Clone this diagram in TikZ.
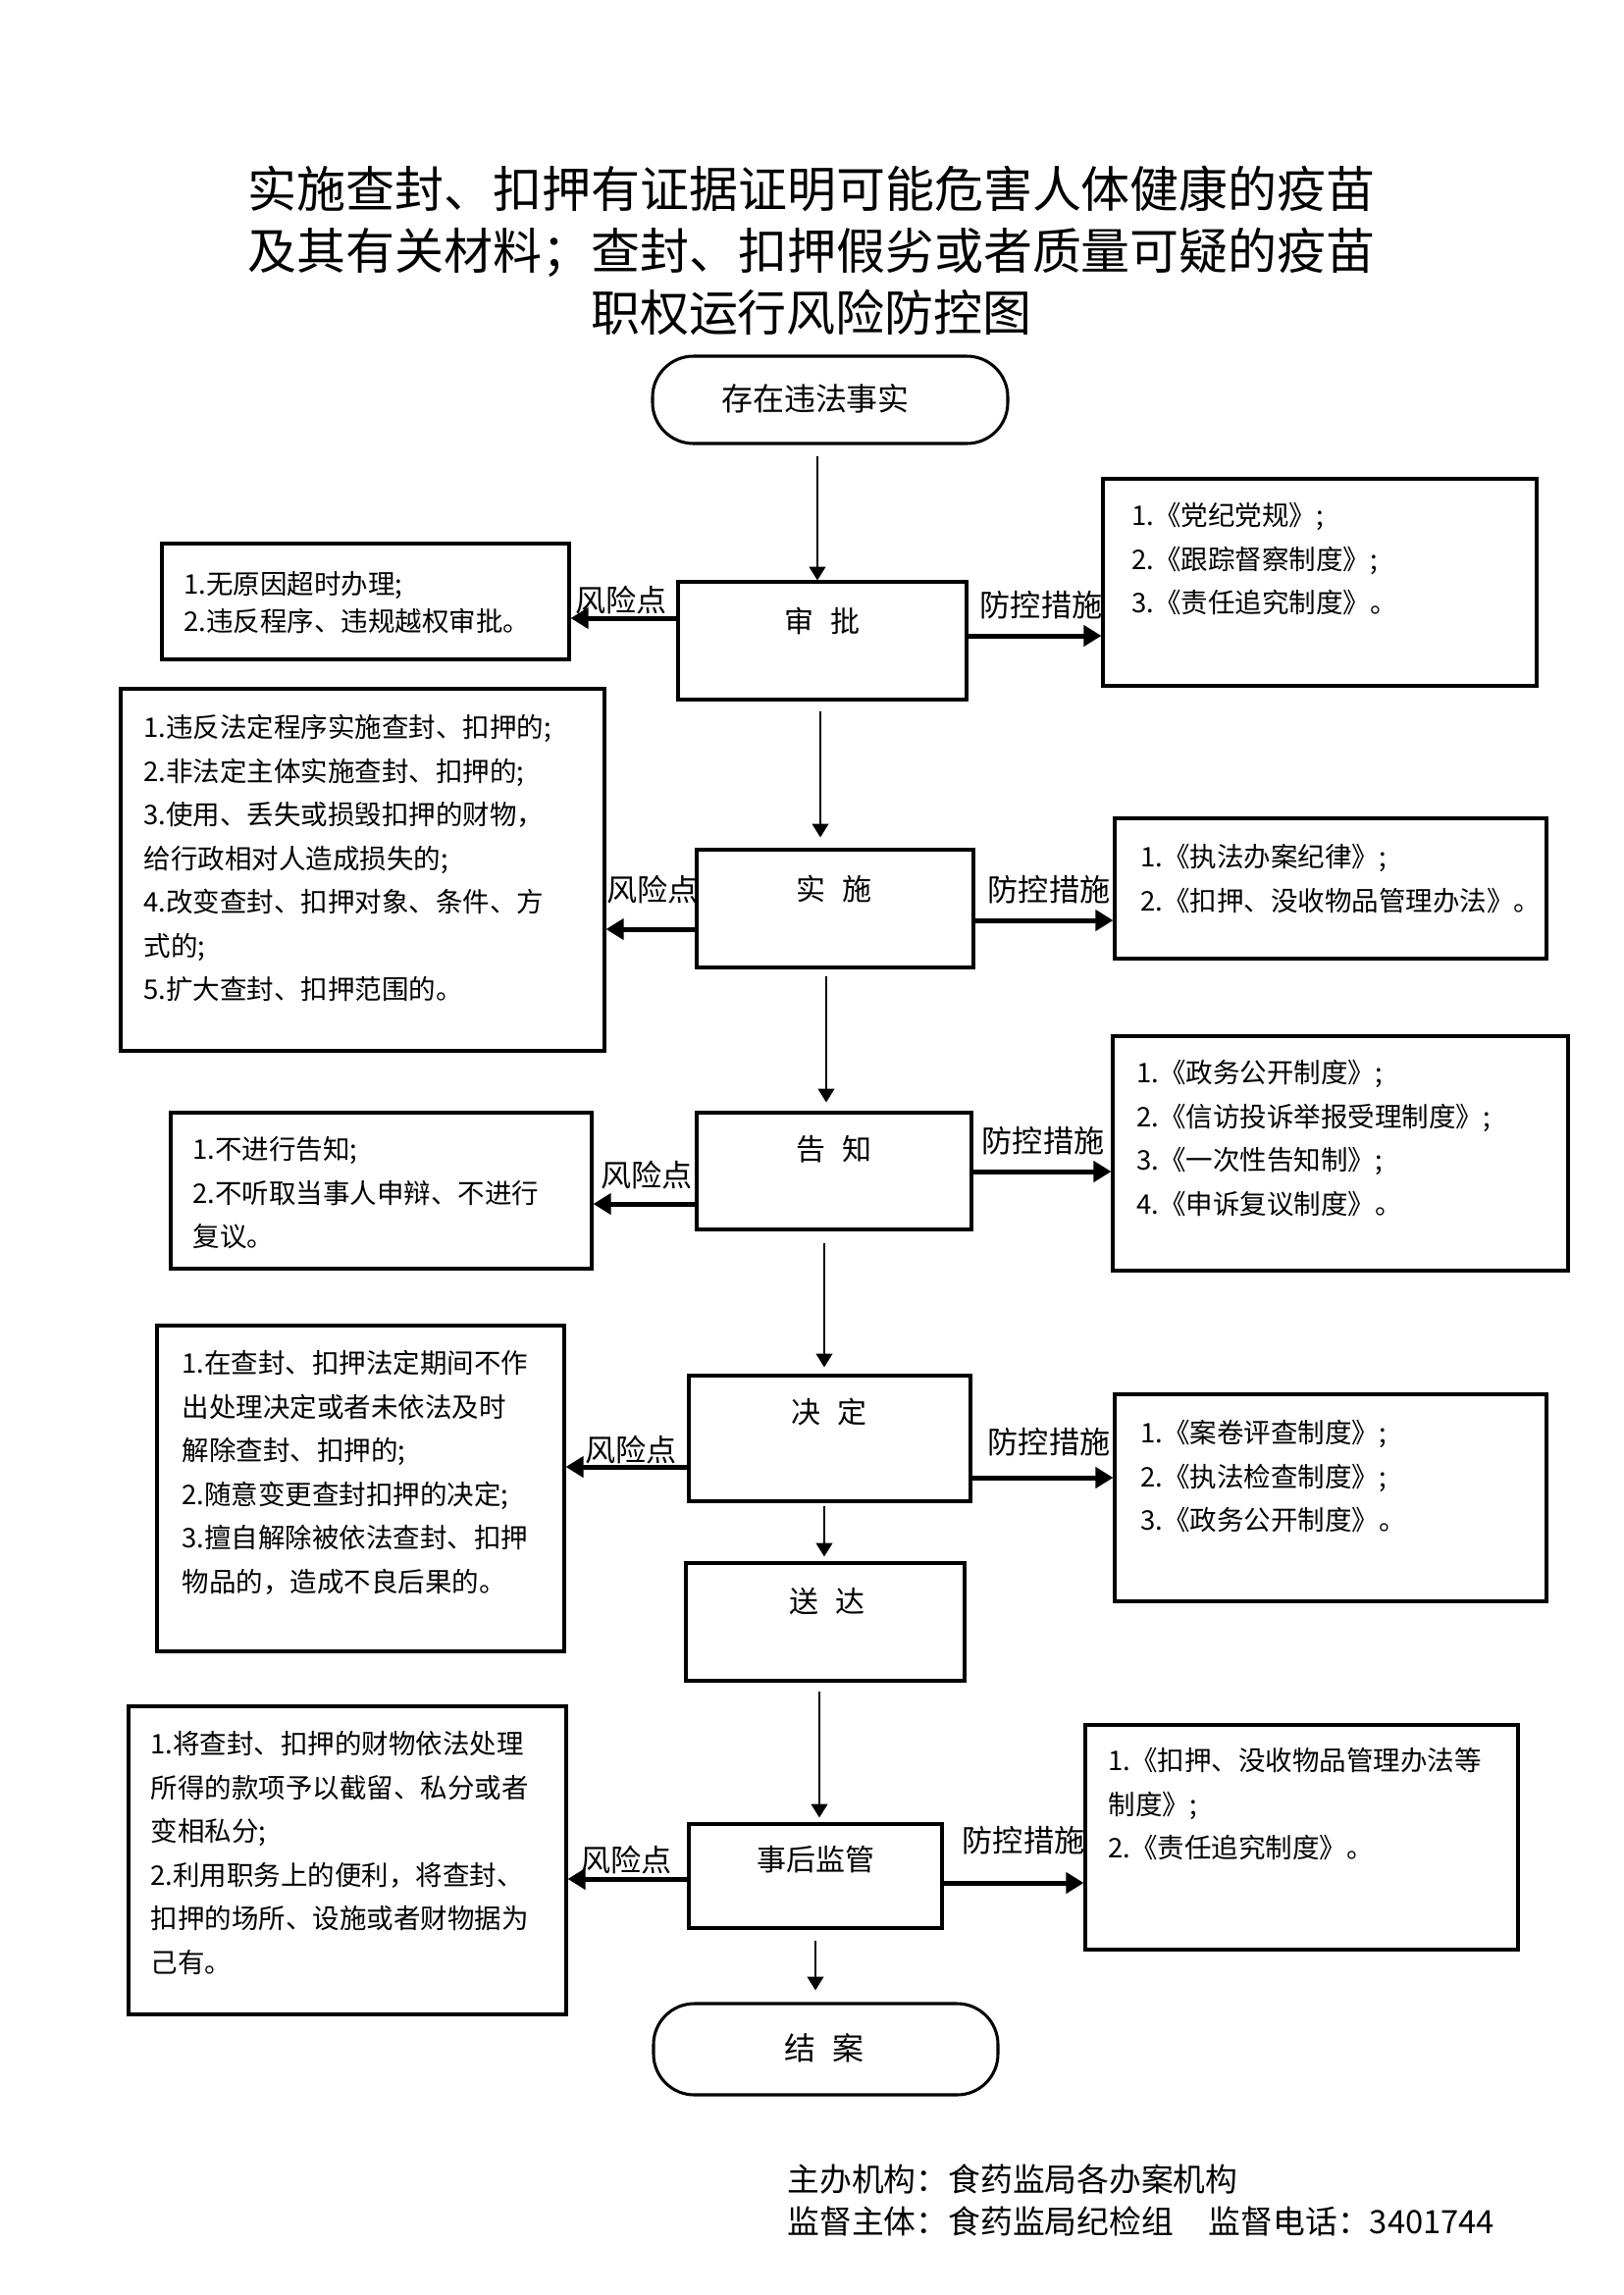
\documentclass[tikz,border=0pt]{standalone}
\usepackage{fontspec}
\setmainfont{Noto Sans CJK SC}
\usetikzlibrary{arrows.meta,fit}
\begin{document}
\begin{tikzpicture}[x=0.36pt,y=-0.36pt,
  box/.style={draw=black, line width=1.1pt, inner sep=0pt, rectangle},
  term/.style={draw=black, line width=1.1pt, inner sep=0pt, rounded corners=15pt},
  mtext/.style={inner sep=0pt, font=\fontsize{10.8}{13}\selectfont},
  ltext/.style={inner sep=0pt, anchor=north west, align=left, font=\fontsize{9.9}{16}\selectfont},
  tag/.style={inner sep=0pt, font=\fontsize{11.2}{13}\selectfont},
  flow/.style={line width=0.75pt, -{Triangle[length=5pt,width=6pt]}},
  side/.style={line width=1.8pt, -{Triangle[length=6.5pt,width=7.5pt]}},
]
\useasboundingbox (0,0) rectangle (1654,2339);

% title
\node[inner sep=0pt, align=center, font=\fontsize{18}{22.7}\selectfont] (title) at (827,255)
  {实施查封、扣押有证据证明可能危害人体健康的疫苗\\及其有关材料；查封、扣押假劣或者质量可疑的疫苗\\职权运行风险防控图};

% main column boxes
\node[term, fit={(665,363) (1027,452)}] (start) {};
\node[mtext, font=\fontsize{11.5}{13}\selectfont] (startt) at (831,406) {存在违法事实};

\node[box, fit={(691,593) (985,713)}] (sp) {};
\node[mtext] (spt) at (838,633) {审\hspace{0.55em}批};

\node[box, fit={(710,866) (992,986)}] (ss) {};
\node[mtext] (sst) at (850,906) {实\hspace{0.55em}施};

\node[box, fit={(710,1134) (990,1253)}] (gz) {};
\node[mtext] (gzt) at (850,1171) {告\hspace{0.55em}知};

\node[box, fit={(702,1402) (989,1530)}] (jd) {};
\node[mtext] (jdt) at (845,1439) {决\hspace{0.55em}定};

\node[box, fit={(699,1593) (983,1713)}] (sd) {};
\node[mtext] (sdt) at (843,1632) {送\hspace{0.55em}达};

\node[box, fit={(702,1859) (960,1965)}] (jg) {};
\node[mtext] (jgt) at (831,1895) {事后监管};

\node[term, fit={(666,2042) (1017,2135)}] (end) {};
\node[mtext, font=\fontsize{11.5}{13}\selectfont] (endt) at (840,2087) {结\hspace{0.55em}案};

% risk boxes (left)
\node[box, fit={(165,554) (580,672)}] (r1) {};
\node[ltext, font=\fontsize{9.9}{13.7}\selectfont] (r1t) at (187,582)
  {1.无原因超时办理;\\2.违反程序、违规越权审批。};

\node[box, fit={(123,702) (616,1071)}] (r2) {};
\node[ltext] (r2t) at (146,728)
  {1.违反法定程序实施查封、扣押的;\\2.非法定主体实施查封、扣押的;\\3.使用、丢失或损毁扣押的财物，\\给行政相对人造成损失的;\\4.改变查封、扣押对象、条件、方\\式的;\\5.扩大查封、扣押范围的。};

\node[box, fit={(174,1134) (603,1293)}] (r3) {};
\node[ltext] (r3t) at (196,1158)
  {1.不进行告知;\\2.不听取当事人申辩、不进行\\复议。};

\node[box, fit={(160,1351) (575,1683)}] (r4) {};
\node[ltext] (r4t) at (185,1376)
  {1.在查封、扣押法定期间不作\\出处理决定或者未依法及时\\解除查封、扣押的;\\2.随意变更查封扣押的决定;\\3.擅自解除被依法查封、扣押\\物品的，造成不良后果的。};

\node[box, fit={(131,1739) (577,2053)}] (r5) {};
\node[ltext] (r5t) at (153,1764)
  {1.将查封、扣押的财物依法处理\\所得的款项予以截留、私分或者\\变相私分;\\2.利用职务上的便利，将查封、\\扣押的场所、设施或者财物据为\\己有。};

% control boxes (right)
\node[box, fit={(1124,488) (1566,699)}] (c1) {};
\node[ltext] (c1t) at (1153,512)
  {1.《党纪党规》;\\2.《跟踪督察制度》;\\3.《责任追究制度》。};

\node[box, fit={(1136,834) (1576,977)}] (c2) {};
\node[ltext] (c2t) at (1162,860)
  {1.《执法办案纪律》;\\2.《扣押、没收物品管理办法》。};

\node[box, fit={(1134,1056) (1598,1295)}] (c3) {};
\node[ltext] (c3t) at (1158,1080)
  {1.《政务公开制度》;\\2.《信访投诉举报受理制度》;\\3.《一次性告知制》;\\4.《申诉复议制度》。};

\node[box, fit={(1136,1421) (1576,1632)}] (c4) {};
\node[ltext] (c4t) at (1162,1447)
  {1.《案卷评查制度》;\\2.《执法检查制度》;\\3.《政务公开制度》。};

\node[box, fit={(1106,1758) (1547,1987)}] (c5) {};
\node[ltext] (c5t) at (1129,1781)
  {1.《扣押、没收物品管理办法等\\制度》;\\2.《责任追究制度》。};

% main flow arrows
\draw[flow, shorten <=11*0.36pt] (start.south -| 833,0) -- (sp.north -| 833,0);
\draw[flow, shorten <=10*0.36pt, shorten >=11*0.36pt] (sp.south -| 836,0) -- (ss.north -| 836,0);
\draw[flow, shorten <=7*0.36pt, shorten >=9*0.36pt] (ss.south -| 842,0) -- (gz.north -| 842,0);
\draw[flow, shorten <=12*0.36pt, shorten >=7*0.36pt] (gz.south -| 840,0) -- (jd.north -| 840,0);
\draw[flow, shorten <=3*0.36pt, shorten >=5*0.36pt] (jd.south -| 840,0) -- (sd.north -| 840,0);
\draw[flow, shorten <=9*0.36pt, shorten >=5*0.36pt] (sd.south -| 835,0) -- (jg.north -| 835,0);
\draw[flow, shorten <=11*0.36pt, shorten >=12*0.36pt] (jg.south -| 831,0) -- (end.north -| 831,0);

% risk arrows
\draw[side] (sp.west |- 0,630) -- (r1.east |- 0,630);
\draw[side] (ss.west |- 0,947) -- (r2.east |- 0,947);
\draw[side] (gz.west |- 0,1227) -- (r3.east |- 0,1227);
\draw[side] (jd.west |- 0,1495) -- (r4.east |- 0,1495);
\draw[side] (jg.west |- 0,1915) -- (r5.east |- 0,1915);

% control arrows
\draw[side] (sp.east |- 0,648) -- (c1.west |- 0,648);
\draw[side] (ss.east |- 0,938) -- (c2.west |- 0,938);
\draw[side] (gz.east |- 0,1194) -- (c3.west |- 0,1194);
\draw[side] (jd.east |- 0,1506) -- (c4.west |- 0,1506);
\draw[side] (jg.east |- 0,1919) -- (c5.west |- 0,1919);

% labels
\node[tag] (l1) at (633,612) {风险点};
\node[tag] (l2) at (665,907) {风险点};
\node[tag] (l3) at (659,1198) {风险点};
\node[tag] (l4) at (643,1478) {风险点};
\node[tag] (l5) at (638,1896) {风险点};
\node[tag] (m1) at (1061,617) {防控措施};
\node[tag] (m2) at (1069,907) {防控措施};
\node[tag] (m3) at (1063,1163) {防控措施};
\node[tag] (m4) at (1069,1470) {防控措施};
\node[tag] (m5) at (1043,1876) {防控措施};

% footer
\node[inner sep=0pt, anchor=west, font=\fontsize{11.8}{14}\selectfont] (f1) at (802,2221) {主办机构：食药监局各办案机构};
\node[inner sep=0pt, anchor=west, font=\fontsize{11.8}{14}\selectfont] (f2) at (802,2264) {监督主体：食药监局纪检组\hspace{1.1em}监督电话：3401744};
\end{tikzpicture}
\end{document}
